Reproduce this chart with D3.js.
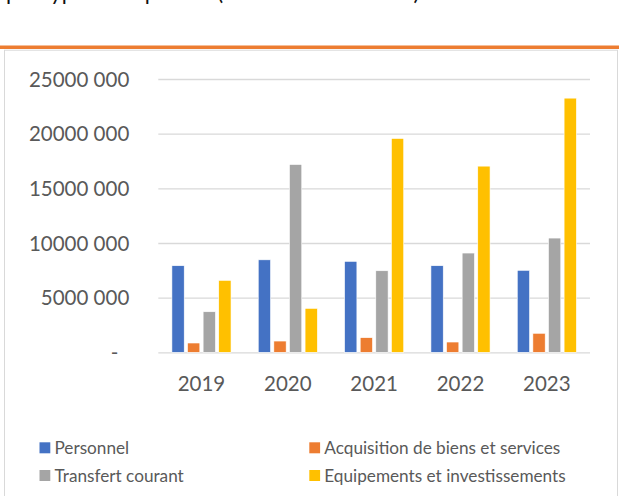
<!DOCTYPE html>
<html>
<head>
<meta charset="utf-8">
<script src="https://cdn.jsdelivr.net/npm/d3@7"></script>
<style>
  html, body { margin: 0; padding: 0; background: #fff; }
  svg { display: block; }
  text { font-family: Lato, "Open Sans", sans-serif; }
</style>
</head>
<body>
<svg id="chart" width="619" height="496"></svg>
<script>
// ---- Data ----
const years = ["2019", "2020", "2021", "2022", "2023"];
const seriesNames = ["Personnel", "Acquisition de biens et services", "Transfert courant", "Equipements et investissements"];
const personnel   = [7920000, 8460000, 8320000, 7920000, 7500000];
const acquisition = [850000, 1030000, 1340000, 940000, 1740000];
const transfert   = [3710000, 17180000, 7460000, 9080000, 10450000];
const equipements = [6580000, 4020000, 19560000, 17030000, 23250000];
const yTickValues = [0, 5000000, 10000000, 15000000, 20000000, 25000000];
const yTickLabels = ["-", "5000 000", "10000 000", "15000 000", "20000 000", "25000 000"];
const colors = ["#4472C4", "#ED7D31", "#A5A5A5", "#FFC000"];
const titleText = "par type de dépenses (en millions de FCFA)";

const seriesValues = [personnel, acquisition, transfert, equipements];
const rows = years.map((y, i) => ({ year: y, values: seriesNames.map((s, j) => ({ key: s, value: seriesValues[j][i], color: colors[j] })) }));

const svg = d3.select("#chart");

// cut-off title line at top (only descenders visible, as in the reference)
svg.append("text").attr("x", 6).attr("y", -0.5)
  .attr("font-size", 22).attr("fill", "#111").text(titleText);

// orange rule
svg.append("rect").attr("x", 0).attr("y", 45.5).attr("width", 619).attr("height", 3.5).attr("fill", "#ED7D31");

// chart frame
svg.append("rect").attr("x", 4.5).attr("y", 50.2).attr("width", 613).attr("height", 460)
  .attr("fill", "#fff").attr("stroke", "#D9D9D9").attr("stroke-width", 1);

// scales
const x0 = d3.scaleBand().domain(years).range([158.3, 590]).paddingInner(0).paddingOuter(0);
const groupPad = 13.6;
const x1 = d3.scaleBand().domain(seriesNames).range([groupPad, x0.bandwidth() - groupPad]).paddingInner(0.2115).paddingOuter(0);
const y = d3.scaleLinear().domain([0, 25000000]).range([352.3, 79]);

// gridlines + y labels
const yAxis = d3.axisLeft(y).tickValues(yTickValues).tickSize(-(590 - 158.3)).tickFormat((d, i) => yTickLabels[i]);
const gAxis = svg.append("g").attr("transform", "translate(158.3,0)").call(yAxis);
gAxis.select(".domain").remove();
gAxis.selectAll(".tick line").attr("stroke", "#D9D9D9").attr("stroke-width", 1.3);
gAxis.selectAll(".tick text")
  .attr("x", -29).attr("dy", "0.35em")
  .attr("font-size", 20.5).attr("fill", "#595959")
  .attr("font-family", "Lato, sans-serif")
  .attr("dx", (d, i) => yTickLabels[i] === "-" ? -11 : 0);

// bars
const groups = svg.append("g").selectAll("g").data(rows).join("g")
  .attr("transform", d => `translate(${x0(d.year)},0)`);
groups.selectAll("rect").data(d => d.values).join("rect")
  .attr("x", d => x1(d.key))
  .attr("width", x1.bandwidth())
  .attr("y", d => y(d.value))
  .attr("height", d => y(0) - y(d.value))
  .attr("fill", d => d.color)
  .attr("stroke", "#fff").attr("stroke-width", 0.6);

// x axis labels
const xAxis = d3.axisBottom(x0).tickSize(0).tickPadding(0);
const gx = svg.append("g").attr("transform", "translate(0,352.3)").call(xAxis);
gx.select(".domain").remove();
gx.selectAll(".tick text").attr("y", 39).attr("dy", 0)
  .attr("font-size", 20.5).attr("fill", "#595959").attr("font-family", "Lato, sans-serif");

// legend
const legendPos = [[39.5, 442.3], [309.3, 442.3], [39.5, 470], [309.3, 470]];
const lg = svg.append("g").selectAll("g").data(seriesNames).join("g")
  .attr("transform", (d, i) => `translate(${legendPos[i][0]},${legendPos[i][1]})`);
lg.append("rect").attr("width", 10.8).attr("height", 11).attr("fill", (d, i) => colors[i]);
lg.append("text").attr("x", 15).attr("y", 12).attr("font-size", 17.2).attr("fill", "#595959").text(d => d);
</script>
</body>
</html>
